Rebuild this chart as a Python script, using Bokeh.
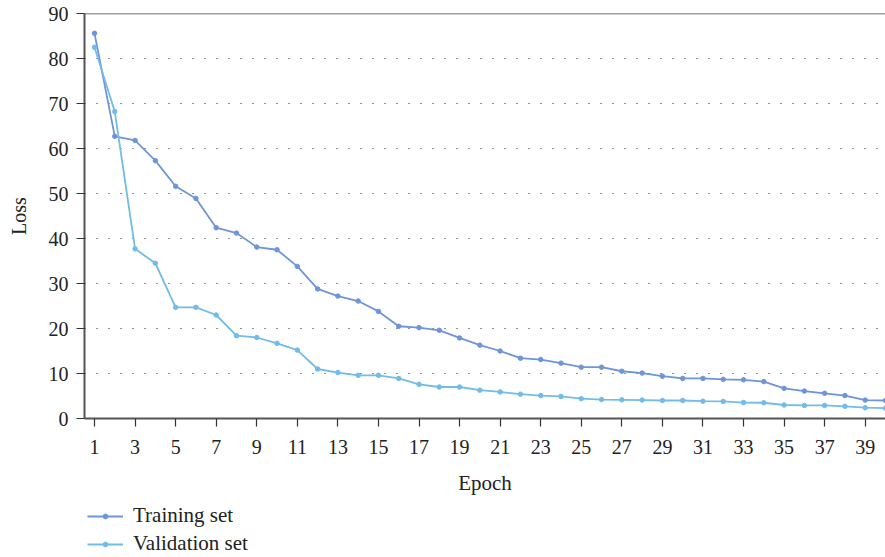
from bokeh.plotting import figure
from bokeh.models import FixedTicker, Range1d, Legend, LegendItem, Span
from bokeh.layouts import column
from bokeh.embed import file_html
from bokeh.resources import INLINE

epochs = list(range(1, 41))
training = [85.6, 62.7, 61.8, 57.3, 51.6, 48.9, 42.4, 41.2, 38.1, 37.5,
            33.8, 28.8, 27.2, 26.1, 23.8, 20.5, 20.2, 19.6, 17.9, 16.3,
            15.0, 13.4, 13.1, 12.3, 11.4, 11.4, 10.5, 10.1, 9.4, 8.9,
            8.9, 8.7, 8.6, 8.2, 6.7, 6.1, 5.6, 5.1, 4.1, 4.0]
validation = [82.5, 68.2, 37.7, 34.5, 24.7, 24.7, 23.0, 18.4, 18.0, 16.7,
              15.2, 11.0, 10.2, 9.6, 9.6, 8.9, 7.6, 7.0, 7.0, 6.3,
              5.9, 5.4, 5.1, 4.9, 4.4, 4.2, 4.15, 4.1, 4.0, 4.0,
              3.85, 3.8, 3.55, 3.5, 3.0, 2.9, 2.9, 2.7, 2.4, 2.3]
x_ticks = list(range(1, 40, 2))
y_ticks = list(range(0, 91, 10))
series_names = ["Training set", "Validation set"]

FONT = "Liberation Serif"
C_TRAIN = "#6f95d8"
C_VAL = "#72bce8"

W = 885
p = figure(width=W, height=500, output_backend="svg", toolbar_location=None,
           x_range=Range1d(0.507, 40.0), y_range=Range1d(0, 90),
           min_border_left=84, min_border_top=13, min_border_right=0,
           min_border_bottom=82)
p.outline_line_color = None
p.background_fill_color = "white"
p.border_fill_color = "white"

# axes
p.xaxis.ticker = FixedTicker(ticks=x_ticks)
p.yaxis.ticker = FixedTicker(ticks=y_ticks)
for ax in (p.xaxis[0], p.yaxis[0]):
    ax.axis_line_color = "#555555"
    ax.axis_line_width = 2
    ax.major_tick_line_color = "#333333"
    ax.major_tick_line_width = 1.2
    ax.major_tick_out = 8
    ax.major_tick_in = 0
    ax.minor_tick_line_color = None
    ax.major_label_text_font = FONT
    ax.major_label_text_font_size = "20px"
    ax.major_label_text_color = "#222222"
    ax.axis_label_text_font = FONT
    ax.axis_label_text_font_style = "normal"
    ax.axis_label_text_color = "#222222"
p.xaxis.axis_label = "Epoch"
p.xaxis.axis_label_text_font_size = "21px"
p.xaxis.major_label_standoff = 13
p.xaxis.axis_label_standoff = 14
p.yaxis.axis_label = "Loss"
p.yaxis.axis_label_text_font_size = "20px"
p.yaxis.major_label_standoff = 8
p.yaxis.axis_label_standoff = 16

# grid
p.xgrid.grid_line_color = None
p.ygrid.grid_line_color = "#222222"
p.ygrid.grid_line_dash = "1 11"
p.ygrid.grid_line_width = 1.2
p.ygrid.ticker = FixedTicker(ticks=y_ticks[1:-1])

top_line = Span(location=y_ticks[-1], dimension="width", line_color="#444444", line_width=1.6)
p.add_layout(top_line)

# series
p.line(epochs, training, line_color=C_TRAIN, line_width=1.8)
p.scatter(epochs, training, marker="circle", size=4.5, fill_color=C_TRAIN, line_color=C_TRAIN)
p.line(epochs, validation, line_color=C_VAL, line_width=1.8)
p.scatter(epochs, validation, marker="circle", size=4.5, fill_color=C_VAL, line_color=C_VAL)

# legend strip below the chart (series drawn outside its visible range; only the legend shows)
lg = figure(width=W, height=57, output_backend="svg", toolbar_location=None,
            x_range=Range1d(0, 1), y_range=Range1d(-2, -1),
            min_border_left=84, min_border_top=0, min_border_right=0,
            min_border_bottom=0)
lg.axis.visible = False
lg.grid.visible = False
lg.outline_line_color = None
lg.border_fill_color = "white"
l1 = lg.line(epochs, training, line_color=C_TRAIN, line_width=1.8)
s1 = lg.scatter(epochs, training, marker="circle", size=4.5, fill_color=C_TRAIN, line_color=C_TRAIN)
l2 = lg.line(epochs, validation, line_color=C_VAL, line_width=1.8)
s2 = lg.scatter(epochs, validation, marker="circle", size=4.5, fill_color=C_VAL, line_color=C_VAL)

legend = Legend(items=[LegendItem(label=series_names[0], renderers=[l1, s1]),
                       LegendItem(label=series_names[1], renderers=[l2, s2])],
                location=(3, 1), orientation="vertical",
                margin=0, padding=0, spacing=3,
                glyph_width=36, glyph_height=12, label_height=22,
                label_standoff=10,
                label_text_font=FONT, label_text_font_size="21px",
                label_text_color="#222222",
                border_line_color=None, background_fill_alpha=0)
lg.add_layout(legend, "center")

layout = column(p, lg, spacing=0)
open("out.html", "w").write(file_html(layout, INLINE))
